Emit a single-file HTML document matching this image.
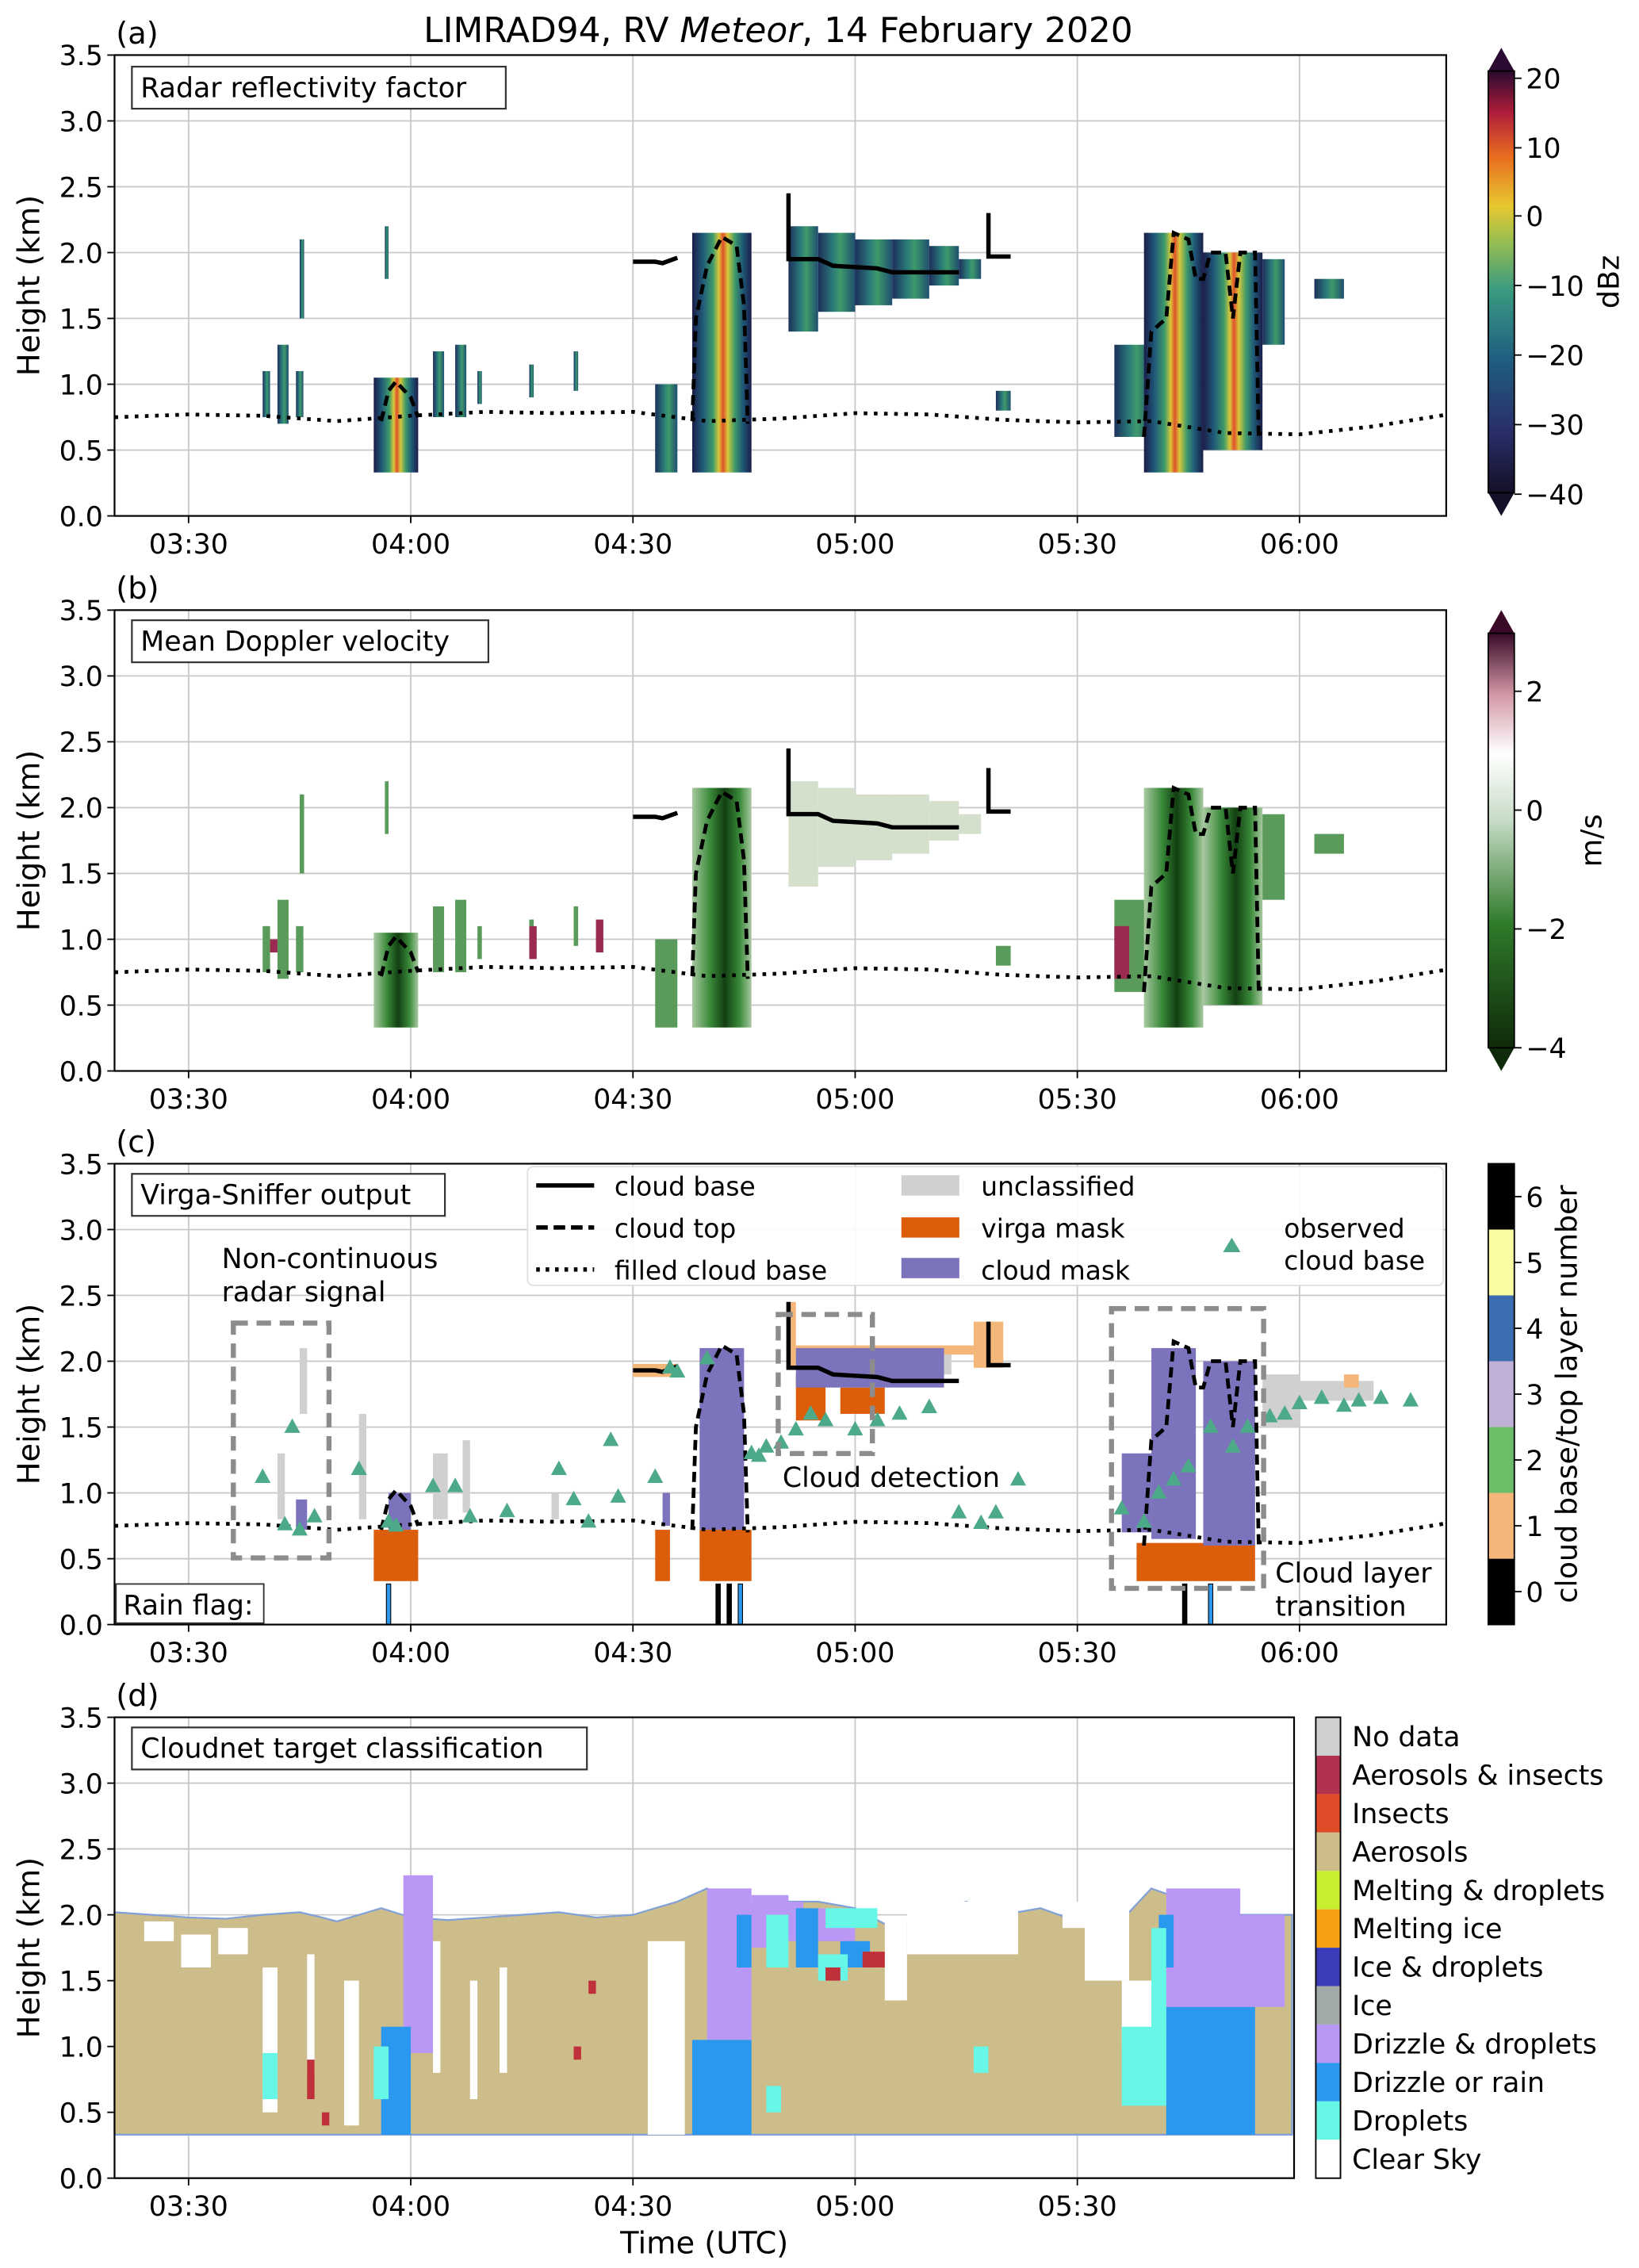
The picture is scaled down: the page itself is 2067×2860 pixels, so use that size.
<!DOCTYPE html>
<html><head><meta charset="utf-8"><style>
html,body{margin:0;padding:0;background:#fff}
svg{display:block;font-family:"DejaVu Sans","Liberation Sans",sans-serif}
</style></head><body>
<svg id="fig" width="2067" height="2860" viewBox="0 0 1131 1565" xmlns="http://www.w3.org/2000/svg">
<defs>
<linearGradient id="hot" x1="0" x2="1" y1="0" y2="0">
<stop offset="0" stop-color="#1b1d4a"/><stop offset="0.18" stop-color="#1f5a78"/><stop offset="0.35" stop-color="#3e9a6a"/><stop offset="0.45" stop-color="#d8c83a"/><stop offset="0.52" stop-color="#e0502a"/><stop offset="0.6" stop-color="#d8c83a"/><stop offset="0.72" stop-color="#3e9a6a"/><stop offset="0.85" stop-color="#1f5a78"/><stop offset="1" stop-color="#1b1d4a"/></linearGradient>
<linearGradient id="cool" x1="0" x2="1" y1="0" y2="0">
<stop offset="0" stop-color="#1d2f5a"/><stop offset="0.4" stop-color="#2a7a7a"/><stop offset="0.6" stop-color="#3e9a6a"/><stop offset="1" stop-color="#1f4f70"/></linearGradient>
<linearGradient id="grn" x1="0" x2="1" y1="0" y2="0">
<stop offset="0" stop-color="#a8c8a0"/><stop offset="0.3" stop-color="#3a8a3a"/><stop offset="0.55" stop-color="#123f12"/><stop offset="0.8" stop-color="#3a8a3a"/><stop offset="1" stop-color="#a8c8a0"/></linearGradient>
<linearGradient id="cbA" x1="0" x2="0" y1="1" y2="0">
<stop offset="0" stop-color="#141028"/><stop offset="0.15" stop-color="#2a2f6a"/><stop offset="0.32" stop-color="#1f5f7f"/><stop offset="0.48" stop-color="#3a9a80"/><stop offset="0.6" stop-color="#9abf50"/><stop offset="0.68" stop-color="#e8c830"/><stop offset="0.8" stop-color="#e86a20"/><stop offset="0.9" stop-color="#b01e3a"/><stop offset="1" stop-color="#2a0a30"/></linearGradient>
<linearGradient id="cbB" x1="0" x2="0" y1="1" y2="0">
<stop offset="0" stop-color="#0f2a0a"/><stop offset="0.3" stop-color="#2f7a2a"/><stop offset="0.55" stop-color="#c8dcc8"/><stop offset="0.71" stop-color="#ffffff"/><stop offset="0.85" stop-color="#d49aa8"/><stop offset="1" stop-color="#3a0a28"/></linearGradient>
</defs>
<g id="root"></g>
</svg>
<script>
// ---- data arrays (time in minutes after 03:20 UTC, heights in km) ----
const xTickLabels = ["03:30","04:00","04:30","05:00","05:30","06:00"];
const xTickTimes = [10,40,70,100,130,160];
const yTicks = [0,0.5,1.0,1.5,2.0,2.5,3.0,3.5];
const filledBaseT = [0,10,20,30,40,50,60,70,80,90,100,110,120,130,140,150,160,170,180];
const filledBaseH = [0.75,0.77,0.76,0.72,0.76,0.79,0.78,0.79,0.72,0.74,0.78,0.77,0.73,0.71,0.72,0.63,0.62,0.68,0.77];
// echoes: [t0,t1,hBottom,hTop,strong(1)/weak(0)]
const echoes = [[20,21,0.75,1.1,0],[22,23.5,0.7,1.3,0],[24.5,25.5,0.75,1.1,0],[25,25.6,1.5,2.1,0],[35,41,0.33,1.05,1],[36.5,37,1.8,2.2,0],[43,44.5,0.75,1.25,0],[46,47.5,0.75,1.3,0],[49,49.6,0.85,1.1,0],[56,56.6,0.9,1.15,0],[62,62.6,0.95,1.25,0],[73,76,0.33,1.0,0],[78,86,0.33,2.15,1],[91,95,1.4,2.2,0],[95,100,1.55,2.15,0],[100,105,1.6,2.1,0],[105,110,1.65,2.1,0],[110,114,1.75,2.05,0],[114,117,1.8,1.95,0],[119,121,0.8,0.95,0],[135,140,0.6,1.3,0],[139,147,0.33,2.15,1],[147,155,0.5,2.0,1],[155,158,1.3,1.95,0],[162,166,1.65,1.8,0]];
// cloud top dashed segments (t,h pairs)
const topSeg1 = [[78,0.72],[78.5,1.5],[80,1.9],[82,2.12],[84,2.05],[85,1.6],[85.5,0.7]];
const topSeg2 = [[139,0.6],[140,1.4],[142,1.5],[143,2.15],[145,2.1],[146,1.8],[147,1.8],[148,2.0],[150,2.0],[151,1.5],[152,2.0],[154,2.0],[154.5,0.6]];
const topSeg3 = [[36,0.72],[37,0.95],[38,1.02],[40,0.9],[41,0.75]];
const baseSeg1 = [[70,1.93],[73,1.93],[74,1.92],[76,1.96]];
const baseSeg2 = [[91,2.45],[91,1.95],[95,1.95],[97,1.9],[103,1.88],[105,1.85],[114,1.85]];
const baseSeg3 = [[118,2.3],[118,1.97],[121,1.97]];
// observed cloud base triangles
const obsT = [20,23,24,25,27,33,37,38,43,46,48,53,60,62,64,67,68,73,75,76,80,86,87,88,90,92,94,96,100,103,106,110,114,117,119,122,136,139,141,143,145,148,151,153,156,158,160,163,166,168,171,175];
const obsH = [1.12,0.76,1.5,0.72,0.82,1.18,0.78,0.75,1.05,1.05,0.82,0.86,1.18,0.95,0.78,1.4,0.97,1.12,1.95,1.92,2.02,1.3,1.28,1.35,1.38,1.48,1.6,1.55,1.48,1.55,1.6,1.65,0.85,0.77,0.85,1.1,0.88,0.78,1.0,1.1,1.2,1.5,1.35,1.5,1.58,1.6,1.68,1.72,1.66,1.7,1.72,1.7];
// virga-sniffer masks [t0,t1,h0,h1]
const virga = [[35,41,0.33,0.72],[73,75,0.33,0.72],[79,86,0.33,0.72],[92,96,1.55,1.9],[98,104,1.6,1.8],[138,154,0.33,0.62]];
const cloudMask = [[37,40,0.72,1.0],[24.5,26,0.72,0.95],[74,75,0.75,1.0],[79,85,0.72,2.1],[92,112,1.8,2.1],[136,140,0.7,1.3],[140,146,0.65,2.1],[147,154,0.6,2.0]];
const unclassified = [[22,23,0.8,1.3],[25,26,1.6,2.1],[33,34,0.8,1.6],[43,45,0.8,1.3],[47,48,0.85,1.4],[59,60,0.8,1.0],[95,113,1.9,2.1],[155,160,1.5,1.9],[160,170,1.7,1.85]];
const layer1 = [[70,76,1.88,1.98],[91,92,1.95,2.45],[92,116,2.05,2.12],[116,120,1.95,2.3],[166,168,1.8,1.9]];
// cloudnet [t0,t1,h0,h1]
const cnTopT = [0,5,10,15,20,25,28,30,33,36,40,45,50,55,60,65,70,73,76,80,85,90,95,100,105,110,115,120,125,130,135,140,145,150,155,159];
const cnTopH = [2.02,2.0,1.98,1.97,2.0,2.02,1.98,1.95,2.0,2.05,1.98,1.96,1.98,2.0,2.02,1.98,2.0,2.05,2.1,2.2,2.05,2.1,2.1,2.05,1.9,2.0,2.1,2.0,2.05,1.95,1.9,2.2,2.1,2.0,2.0,2.0];
const cnGaps = [[4,8,1.8,1.95],[9,13,1.6,1.85],[14,18,1.7,1.9],[20,22,0.5,1.6],[26,27,0.8,1.7],[31,33,0.4,1.5],[43,44,0.8,1.8],[48,49,0.6,1.5],[52,53,0.8,1.6],[72,77,0.33,1.8],[104,107,1.35,1.95],[107,122,1.7,2.1],[128,131,1.9,2.1],[131,137,1.5,2.1],[136,140,1.0,1.5]];
const cnDrizzle = [[36,40,0.33,1.15],[78,86,0.33,1.05],[84,86,1.6,2.0],[92,95,1.6,2.05],[98,102,1.6,1.8],[142,154,0.33,1.3],[141,143,1.6,2.0]];
const cnDroplets = [[20,22,0.6,0.95],[35,37,0.6,1.0],[88,90,0.5,0.7],[88,91,1.6,2.0],[95,99,1.5,1.7],[96,103,1.9,2.05],[136,142,0.55,1.15],[140,142,1.1,1.9],[116,118,0.8,1.0]];
const cnDrizDrop = [[39,43,0.95,2.3],[80,86,1.05,2.2],[86,91,1.75,2.15],[91,93,1.8,2.1],[95,100,1.8,2.05],[142,152,1.3,2.2],[152,158,1.3,2.0]];
const cnInsects = [[26,27,0.6,0.9],[28,29,0.4,0.5],[62,63,0.9,1.0],[96,98,1.5,1.6],[101,104,1.6,1.72],[64,65,1.4,1.5]];
// legends
const cbALabels = ["20","10","0","−10","−20","−30","−40"];
const cbBLabels = ["2","0","−2","−4"];
const layerColors = ["#000000","#f5b67a","#6bbd68","#bfb2d6","#3b6db0","#fcfca2","#000000"];
const cnNames = ["No data","Aerosols & insects","Insects","Aerosols","Melting & droplets","Melting ice","Ice & droplets","Ice","Drizzle & droplets","Drizzle or rain","Droplets","Clear Sky"];
const cnColors = ["#cfcfcf","#b0324e","#e04c2a","#cdbd8a","#c8ef2f","#f6a012","#3c3cb8","#a2aaa8","#b897f5","#2b98f0","#66f7e6","#ffffff"];

// ---- drawing ----
const NS="http://www.w3.org/2000/svg";
const root=document.getElementById('root');
const L=79, R=998, H=318, TOPS=[38,421,803,1185];
function X(t){return L+t*153.33/30;}
function Y(p,h){return TOPS[p]+H-h*H/3.5;}
function el(tag,attrs,parent,text){const e=document.createElementNS(NS,tag);for(const k in attrs)e.setAttribute(k,attrs[k]);if(text!==undefined)e.textContent=text;(parent||root).appendChild(e);return e;}
function rectTH(p,r,fill,g){const x0=X(r[0]),x1=X(r[1]),y0=Y(p,r[3]),y1=Y(p,r[2]);return el('rect',{x:x0,y:y0,width:Math.max(1,x1-x0),height:y1-y0,fill:fill},g);}
function pathPts(p,pts){return pts.map((q,i)=>(i?'L':'M')+X(q[0]).toFixed(1)+','+Y(p,q[1]).toFixed(1)).join(' ');}

el('text',{x:537,y:29,'font-size':24,'text-anchor':'middle'},root).innerHTML='LIMRAD94, RV <tspan font-style="italic">Meteor</tspan>,  14 February 2020';



function axes(p,right,letter,box){
  const g=el('g',{},root);
  
  
  const top=TOPS[p];
  const grid=el('g',{},g);
  
  
  yTicks.forEach(v=>{el('line',{x1:L,x2:right,y1:Y(p,v),y2:Y(p,v),stroke:'#c8c8c8','stroke-width':1},grid);});
  xTickTimes.forEach(t=>{if(X(t)<right)el('line',{x1:X(t),x2:X(t),y1:top,y2:top+H,stroke:'#c8c8c8','stroke-width':1},grid);});
  const content=el('g',{},g);
  
  
  const fr=el('rect',{x:L,y:top,width:right-L,height:H,fill:'none',stroke:'#000','stroke-width':1.2},g);
  
  
  const yt=el('g',{'font-size':19,'text-anchor':'end'},g);
  
  
  yTicks.forEach(v=>{el('line',{x1:L-5,x2:L,y1:Y(p,v),y2:Y(p,v),stroke:'#000'},yt);el('text',{x:L-8,y:Y(p,v)+7},yt,v.toFixed(1));});
  const xt=el('g',{'font-size':19,'text-anchor':'middle'},g);
  
  
  xTickTimes.forEach((t,i)=>{if(X(t)<right){el('line',{x1:X(t),x2:X(t),y1:top+H,y2:top+H+5,stroke:'#000'},xt);el('text',{x:X(t),y:top+H+26},xt,xTickLabels[i]);}});
  const yl=el('text',{x:0,y:0,'font-size':21,'text-anchor':'middle',transform:`translate(27,${top+H/2}) rotate(-90)`},g,'Height (km)');
  
  
  const pl=el('text',{x:80,y:top-8,'font-size':21},g,'('+letter+')');
  
  
  return {g,content,box};
}
function boxLabel(g,x,y,w,txt,name){
  const b=el('g',{},g);
  
  
  el('rect',{x:x,y:y,width:w,height:29,fill:'#fff',stroke:'#333','stroke-width':1.2},b);
  el('text',{x:x+6,y:y+21,'font-size':19},b,txt);
}
function dotted(p,g,name){
  const pts=filledBaseT.map((t,i)=>[t,filledBaseH[i]]);
  const d=el('path',{d:pathPts(p,pts),fill:'none',stroke:'#000','stroke-width':2.6,'stroke-dasharray':'2.5 4.5'},g);
  
  
}
function lines(p,g,dashedTop){
  [topSeg1,topSeg2,topSeg3].forEach((s,i)=>{const e=el('path',{d:pathPts(p,s),fill:'none',stroke:'#000','stroke-width':2.6,'stroke-dasharray':'7 4'},g);
    
    });
  [baseSeg1,baseSeg2,baseSeg3].forEach(s=>{const e=el('path',{d:pathPts(p,s),fill:'none',stroke:'#000','stroke-width':3},g);
    
    });
}

// Panel a
const A=axes(0,R,'a');
echoes.forEach(e=>{const r=rectTH(0,e,e[4]?'url(#hot)':'url(#cool)',A.content);
  
  });
lines(0,A.content);dotted(0,A.content,'filled-cloud-base-line');
boxLabel(A.g,91,46,258,'Radar reflectivity factor','panel-a-title-box');

// Panel b
const B=axes(1,R,'b');
echoes.forEach(e=>{const isLayer=e[0]>=91&&e[0]<117;const r=rectTH(1,e,isLayer?'#d4e0cc':(e[4]?'url(#grn)':'#5a9a5a'),B.content);
  
  });
[[135,137,0.7,1.1],[21,22,0.9,1.0],[56,57,0.85,1.1],[65,66,0.9,1.15]].forEach(r=>{const e=rectTH(1,r,'#9a2a50',B.content);
  
  });
lines(1,B.content);dotted(1,B.content,'filled-cloud-base-line');
boxLabel(B.g,91,428,246,'Mean Doppler velocity','panel-b-title-box');

// Panel c
const C=axes(2,R,'c');
unclassified.forEach(r=>{const e=rectTH(2,r,'#d0d0d0',C.content);});
layer1.forEach(r=>{const e=rectTH(2,r,'#f5b67a',C.content);});
virga.forEach(r=>{const e=rectTH(2,r,'#dd5e0a',C.content);});
cloudMask.forEach(r=>{const e=rectTH(2,r,'#7b73bb',C.content);});
lines(2,C.content);dotted(2,C.content,'filled-cloud-base-line');
obsT.forEach((t,i)=>{const x=X(t),y=Y(2,obsH[i]);const tr=el('path',{d:`M${x},${y-6}L${x+5.5},${y+4}L${x-5.5},${y+4}Z`,fill:'#4daa88'},C.content);
  
  });
[[37,'#2b98f0'],[81.5,'#000'],[83,'#000'],[84.5,'#2b98f0'],[144.5,'#000'],[148,'#2b98f0']].forEach(q=>{const r=el('rect',{x:X(q[0])-1.5,y:1093,width:3,height:28,fill:q[1],stroke:'#000','stroke-width':0.6},C.content);
  });
[[161,913,66,162],[537,907,65,96],[767,903,105,193]].forEach(b=>{const r=el('rect',{x:b[0],y:b[1],width:b[2],height:b[3],fill:'none',stroke:'#8c8c8c','stroke-width':3.5,'stroke-dasharray':'10 6'},C.g);
  });
const ann=el('g',{'font-size':19},C.g);
el('text',{x:153,y:875},ann,'Non-continuous');el('text',{x:153,y:898},ann,'radar signal');
el('text',{x:540,y:1026},ann,'Cloud detection');
el('text',{x:880,y:1092},ann,'Cloud layer');el('text',{x:880,y:1115},ann,'transition');
boxLabel(C.g,91,810,216,'Virga-Sniffer output','panel-c-title-box');
const rf=el('g',{},C.g);
el('rect',{x:80,y:1093,width:102,height:27,fill:'#fff',stroke:'#333'},rf);el('text',{x:85,y:1114,'font-size':19},rf,'Rain flag:');
const lg=el('g',{'font-size':18},C.g);
el('rect',{x:364,y:805,width:632,height:82,rx:4,fill:'#fff',stroke:'#ddd',opacity:0.9},lg);
el('line',{x1:370,x2:410,y1:818,y2:818,stroke:'#000','stroke-width':3},lg);el('text',{x:424,y:825},lg,'cloud base');
el('line',{x1:370,x2:410,y1:847,y2:847,stroke:'#000','stroke-width':3,'stroke-dasharray':'8 4'},lg);el('text',{x:424,y:854},lg,'cloud top');
el('line',{x1:370,x2:410,y1:876,y2:876,stroke:'#000','stroke-width':3,'stroke-dasharray':'2.5 4'},lg);el('text',{x:424,y:883},lg,'filled cloud base');
el('rect',{x:622,y:811,width:40,height:14,fill:'#d0d0d0'},lg);el('text',{x:677,y:825},lg,'unclassified');
el('rect',{x:622,y:840,width:40,height:14,fill:'#dd5e0a'},lg);el('text',{x:677,y:854},lg,'virga mask');
el('rect',{x:622,y:868,width:40,height:14,fill:'#7b73bb'},lg);el('text',{x:677,y:883},lg,'cloud mask');
el('path',{d:'M850,854L856,864L844,864Z',fill:'#4daa88'},lg);el('text',{x:886,y:854},lg,'observed');el('text',{x:886,y:876},lg,'cloud base');

// Panel d
const DR=893;
const D=axes(3,DR,'d');
const topPts=cnTopT.map((t,i)=>[t,cnTopH[i]]);
const area=pathPts(3,topPts)+` L${X(159)},${Y(3,0.33)} L${X(0)},${Y(3,0.33)} Z`;
const ar=el('path',{d:area,fill:'#cdbd8a',stroke:'#7fa0d8','stroke-width':1.2},D.content);

cnGaps.forEach(r=>{const e=rectTH(3,r,'#fff',D.content);});
cnDrizDrop.forEach(r=>{const e=rectTH(3,r,'#b897f5',D.content);});
cnDrizzle.forEach(r=>{const e=rectTH(3,r,'#2b98f0',D.content);});
cnDroplets.forEach(r=>{const e=rectTH(3,r,'#66f7e6',D.content);});
cnInsects.forEach(r=>{const e=rectTH(3,r,'#c0303a',D.content);});
const xl=el('text',{x:486,y:1555,'font-size':21,'text-anchor':'middle'},D.g,'Time (UTC)');

boxLabel(D.g,91,1192,314,'Cloudnet target classification','panel-d-title-box');
const cl=el('g',{'font-size':19},root);
el('rect',{x:908,y:1185,width:17,height:318,fill:'#fff',stroke:'#000'},cl);
cnNames.forEach((n,i)=>{const y=1185+i*26.5;const e=el('g',{},cl);
  
  el('rect',{x:908,y:y,width:17,height:26.5,fill:cnColors[i]},e);el('text',{x:933,y:y+20},e,n);});
el('rect',{x:908,y:1185,width:17,height:318,fill:'none',stroke:'#000'},cl);

// colorbars
function colorbar(top,bot,fill,labels,labelYs,title,name,tx){
  const g=el('g',{},root);
  el('path',{d:`M1027,${top+16}L1036,${top}L1045,${top+16}Z`,fill:fill==='url(#cbA)'?'#2a0a30':'#3a0a28'},g);
  el('path',{d:`M1027,${bot-16}L1036,${bot}L1045,${bot-16}Z`,fill:fill==='url(#cbA)'?'#141028':'#0f2a0a'},g);
  el('rect',{x:1027,y:top+16,width:18,height:bot-top-32,fill:fill,stroke:'#000'},g);
  labels.forEach((l,i)=>{el('line',{x1:1045,x2:1050,y1:labelYs[i],y2:labelYs[i],stroke:'#000'},g);el('text',{x:1053,y:labelYs[i]+7,'font-size':19},g,l);});
  el('text',{x:0,y:0,'font-size':20,'text-anchor':'middle',transform:`translate(${tx},${(top+bot)/2}) rotate(-90)`},g,title);
}
colorbar(33,356,'url(#cbA)',cbALabels,[54,102,149,197,245,293,341],'dBz','colorbar-reflectivity',1117);
colorbar(421,739,'url(#cbB)',cbBLabels,[477,559,641,723],'m/s','colorbar-velocity',1105);
const cc=el('g',{},root);
layerColors.forEach((c,i)=>{const h=318/7;const y=1121-(i+1)*h;el('rect',{x:1027,y:y,width:18,height:h,fill:c},cc);
  el('line',{x1:1045,x2:1050,y1:y+h/2,y2:y+h/2,stroke:'#000'},cc);el('text',{x:1053,y:y+h/2+7,'font-size':19},cc,String(i));});
el('rect',{x:1027,y:803,width:18,height:318,fill:'none',stroke:'#000'},cc);
el('text',{x:0,y:0,'font-size':20,'text-anchor':'middle',transform:'translate(1088,962) rotate(-90)'},cc,'cloud base/top layer number');
</script>
</body></html>
